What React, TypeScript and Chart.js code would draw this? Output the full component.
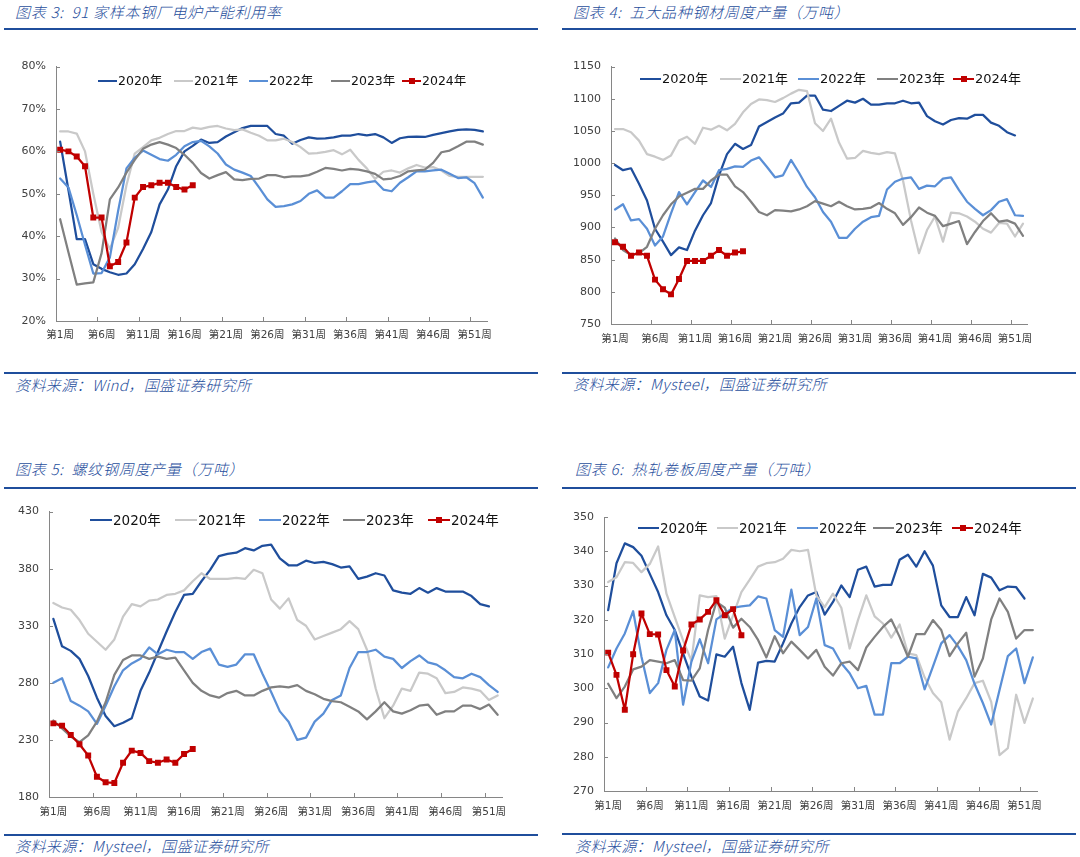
import React, { useEffect, useRef } from 'react';
import { Chart, registerables } from 'chart.js';

Chart.register(...registerables);

// ---------- data ----------
const weeks = Array.from({ length: 52 }, (_, i) => `第${i + 1}周`);
const seriesNames = ['2020年', '2021年', '2022年', '2023年', '2024年'];
const seriesColors = ['#1f4e9c', '#c9c9c9', '#5a8fd6', '#808080', '#c00000'];

// 图表3: 91家样本钢厂电炉产能利用率 (%)
const p1_2020 = [62.3, 50.9, 39.3, 39.3, 33.4, 32.3, 31.5, 30.9, 31.2, 33.4, 37.0, 41.0, 47.5, 51.0, 56.5, 60.0, 61.3, 62.8, 62.0, 62.2, 63.5, 64.5, 65.5, 66.0, 66.0, 66.0, 64.1, 63.7, 61.8, 62.7, 63.3, 63.0, 63.1, 63.3, 63.7, 63.7, 64.1, 63.8, 64.1, 63.3, 62.0, 63.1, 63.4, 63.5, 63.4, 63.9, 64.3, 64.7, 65.1, 65.2, 65.1, 64.7];
const p1_2021 = [64.7, 64.7, 64.2, 60.0, 50.0, 41.0, 37.0, 42.0, 52.0, 59.5, 61.0, 62.6, 63.2, 64.1, 64.8, 64.8, 65.6, 65.3, 65.8, 66.0, 65.4, 65.0, 65.2, 64.4, 63.7, 62.6, 62.6, 63.0, 62.2, 61.0, 59.5, 59.6, 59.9, 60.3, 59.3, 60.4, 58.0, 56.0, 53.5, 55.2, 55.5, 55.0, 56.0, 56.8, 56.2, 56.3, 55.5, 54.2, 54.0, 54.0, 54.0, 54.0];
const p1_2022 = [53.6, 51.5, 45.0, 38.0, 31.2, 31.3, 35.0, 46.0, 56.0, 58.5, 60.2, 59.2, 58.2, 57.8, 59.2, 61.2, 62.2, 62.5, 61.2, 59.5, 56.9, 55.7, 55.0, 54.2, 51.5, 48.7, 46.9, 47.1, 47.5, 48.3, 50.0, 50.8, 49.1, 49.1, 50.6, 52.3, 52.3, 52.7, 53.0, 51.0, 50.6, 52.6, 53.9, 55.3, 55.3, 55.5, 55.7, 54.7, 53.7, 53.9, 52.5, 49.1];
const p1_2023 = [44.0, 36.2, 28.6, 28.9, 29.1, 36.0, 48.7, 51.5, 55.0, 58.0, 60.6, 61.6, 62.2, 61.6, 60.8, 59.2, 57.3, 54.9, 53.6, 54.4, 55.1, 53.4, 53.2, 53.5, 53.6, 54.4, 54.4, 53.9, 54.1, 54.1, 54.4, 55.2, 56.1, 55.9, 55.5, 55.9, 55.7, 55.3, 54.7, 53.4, 53.6, 54.2, 55.3, 55.5, 55.7, 57.3, 59.8, 60.2, 61.2, 62.3, 62.3, 61.6];
const p1_2024 = [60.4, 60.0, 58.8, 56.5, 44.4, 44.4, 32.9, 33.9, 38.5, 49.1, 51.6, 52.0, 52.6, 52.6, 51.6, 51.0, 52.0];

// 图表4: 五大品种钢材周度产量 (万吨)
const p2_2020 = [997, 989, 992, 968, 942, 898, 878, 857, 869, 865, 895, 919, 938, 981, 1014, 1030, 1022, 1028, 1057, 1064, 1071, 1077, 1093, 1094, 1105, 1105, 1083, 1081, 1089, 1097, 1094, 1100, 1091, 1091, 1093, 1093, 1097, 1093, 1094, 1073, 1065, 1060, 1067, 1070, 1069, 1075, 1075, 1063, 1058, 1048, 1043];
const p2_2021 = [1053, 1053, 1048, 1035, 1014, 1010, 1005, 1012, 1035, 1041, 1030, 1055, 1052, 1058, 1051, 1061, 1079, 1092, 1099, 1098, 1095, 1101, 1108, 1114, 1112, 1062, 1050, 1069, 1032, 1007, 1008, 1019, 1016, 1014, 1017, 1015, 973, 911, 860, 896, 917, 878, 923, 922, 917, 909, 898, 892, 907, 906, 886, 906];
const p2_2022 = [928, 936, 911, 913, 898, 872, 886, 922, 955, 936, 955, 973, 963, 989, 991, 995, 994, 1004, 1009, 994, 978, 981, 1005, 985, 963, 947, 924, 909, 884, 884, 898, 909, 916, 918, 959, 971, 976, 978, 960, 965, 964, 976, 978, 958, 940, 929, 919, 927, 940, 944, 919, 918];
const p2_2023 = [883, 865, 857, 860, 870, 898, 919, 936, 948, 954, 960, 960, 973, 982, 982, 964, 955, 940, 924, 919, 927, 926, 925, 928, 933, 941, 937, 933, 940, 933, 928, 929, 931, 938, 929, 922, 904, 916, 931, 923, 918, 902, 906, 910, 874, 893, 910, 922, 909, 911, 906, 887];
const p2_2024 = [877, 870, 856, 861, 856, 819, 804, 796, 820, 848, 848, 848, 856, 865, 856, 861, 863];

// 图表5: 螺纹钢周度产量 (万吨)
const p3_2020 = [336, 312, 308, 301, 286, 267, 251, 242, 245, 249, 273, 289, 307, 325, 342, 357, 358, 369, 379, 391, 393, 394, 398, 396, 400, 401, 389, 383, 383, 387, 385, 386, 384, 381, 382, 371, 373, 376, 374, 361, 359, 358, 363, 359, 363, 360, 360, 360, 356, 349, 347];
const p3_2021 = [350, 346, 344, 335, 323, 316, 309, 318, 338, 349, 347, 352, 353, 357, 358, 361, 369, 376, 371, 371, 371, 372, 371, 379, 376, 353, 345, 354, 335, 330, 318, 321, 324, 327, 334, 327, 309, 275, 249, 260, 275, 273, 289, 288, 284, 271, 272, 276, 275, 273, 265, 269];
const p3_2022 = [280, 284, 264, 260, 255, 244, 260, 277, 291, 297, 301, 311, 305, 309, 307, 307, 301, 307, 310, 296, 294, 296, 305, 305, 288, 272, 255, 246, 230, 232, 246, 253, 265, 269, 293, 307, 307, 309, 303, 301, 293, 299, 304, 298, 296, 291, 285, 284, 288, 285, 278, 272];
const p3_2023 = [247, 240, 233, 228, 234, 246, 263, 287, 300, 304, 304, 301, 303, 301, 302, 291, 280, 273, 269, 267, 271, 273, 269, 269, 273, 276, 277, 276, 278, 273, 270, 266, 264, 263, 259, 255, 248, 255, 263, 255, 253, 256, 260, 261, 252, 255, 255, 260, 260, 257, 261, 252];
const p3_2024 = [244.5, 242.5, 234.3, 226.2, 216.3, 197.7, 192.9, 192.3, 210.0, 220.6, 218.6, 211.4, 210.0, 212.9, 210.0, 217.7, 222.0];

// 图表6: 热轧卷板周度产量 (万吨)
const p4_2020 = [322.8, 336.5, 342.3, 341.2, 338.7, 333.4, 328.1, 321.3, 317.0, 310.2, 303.4, 297.6, 296.4, 309.9, 309.2, 312.1, 301.5, 293.7, 307.5, 308.0, 307.8, 313.1, 318.9, 323.7, 327.1, 328.1, 321.5, 325.2, 330.0, 326.6, 334.6, 335.5, 329.7, 330.2, 330.2, 337.5, 339.0, 335.5, 340.0, 335.8, 324.2, 320.8, 320.8, 326.6, 321.3, 333.4, 332.3, 328.6, 329.7, 329.5, 326.2];
const p4_2021 = [331.0, 332.4, 336.8, 336.6, 333.9, 336.3, 341.4, 327.6, 320.8, 314.0, 308.0, 327.1, 326.6, 326.9, 314.5, 321.3, 328.1, 331.7, 335.5, 336.5, 336.8, 337.8, 340.4, 340.0, 340.4, 327.1, 323.7, 327.6, 323.5, 311.6, 319.9, 327.1, 321.0, 318.9, 314.8, 318.6, 310.2, 309.7, 303.2, 298.6, 295.9, 285.0, 293.2, 297.1, 301.5, 302.2, 296.0, 280.5, 282.5, 298.1, 289.9, 297.0];
const p4_2022 = [306.1, 311.6, 316.0, 322.5, 309.2, 298.6, 301.5, 311.2, 317.0, 295.2, 307.8, 314.3, 307.3, 320.1, 321.8, 323.5, 323.9, 324.2, 326.8, 326.2, 317.0, 315.0, 328.8, 315.5, 317.9, 326.2, 312.6, 311.6, 307.3, 304.4, 300.0, 300.7, 292.3, 292.3, 307.3, 307.3, 309.2, 308.7, 299.7, 306.3, 313.1, 315.5, 312.3, 308.2, 301.3, 295.7, 289.4, 299.5, 309.4, 311.6, 301.5, 309.0];
const p4_2023 = [301.3, 297.1, 300.5, 305.5, 306.3, 308.2, 307.8, 307.3, 308.2, 302.4, 302.2, 305.8, 317.0, 325.2, 323.5, 317.7, 320.3, 317.9, 314.1, 309.0, 315.2, 310.2, 313.6, 311.2, 308.7, 311.2, 306.3, 303.7, 307.3, 307.8, 305.3, 311.9, 315.0, 317.9, 320.1, 315.0, 309.2, 315.8, 315.8, 319.9, 317.0, 309.4, 313.1, 316.2, 303.4, 308.7, 320.1, 326.2, 322.3, 314.5, 317.0, 317.0];
const p4_2024 = [310.4, 303.9, 293.7, 309.9, 321.8, 315.8, 315.7, 305.3, 300.5, 311.0, 318.6, 320.1, 322.3, 325.7, 321.3, 323.1, 315.5];

// ---------- styling / layout ----------
const BLUE = '#1f4e9c';
const TICK_FONT = "'DejaVu Sans', 'Noto Sans CJK SC', sans-serif";
const CJK_FONT = "'Noto Sans CJK SC', sans-serif";

type Rect = { left: number; top: number; width: number; height: number };
type Plot = { left: number; top: number; right: number; bottom: number };

interface PanelCfg {
  id: string;
  canvas: Rect;
  plot: Plot;
  yMin: number;
  yMax: number;
  yStep: number;
  yFmt: (v: number) => string;
  xPad: number;
  series: number[][];
  legendY: number;
  legendSize: number;
  legendLineX: number[];
  legendLineLen: number;
  title: string;
  titleX: number;
  titleY: number;
  source: string;
  sourceY: number;
  ruleLeft: number;
  ruleRight: number;
  titleRuleY: number;
  sourceRuleY: number;
}

const panels: PanelCfg[] = [
  {
    id: 'p1',
    canvas: { left: 0, top: 50, width: 540, height: 300 },
    plot: { left: 56, top: 65, right: 487, bottom: 321 },
    yMin: 20, yMax: 80, yStep: 10, yFmt: (v) => `${v}%`, xPad: 8,
    series: [p1_2020, p1_2021, p1_2022, p1_2023, p1_2024],
    legendY: 81, legendSize: 12.5, legendLineX: [98, 174, 249, 331, 402], legendLineLen: 19,
    title: '图表 3:  91 家样本钢厂电炉产能利用率', titleX: 15, titleY: 12,
    source: '资料来源：Wind，国盛证券研究所', sourceY: 385,
    ruleLeft: 4, ruleRight: 538, titleRuleY: 29, sourceRuleY: 373,
  },
  {
    id: 'p2',
    canvas: { left: 540, top: 50, width: 540, height: 300 },
    plot: { left: 611, top: 65, right: 1027, bottom: 324 },
    yMin: 750, yMax: 1150, yStep: 50, yFmt: (v) => `${v}`, xPad: 9,
    series: [p2_2020, p2_2021, p2_2022, p2_2023, p2_2024],
    legendY: 79, legendSize: 13, legendLineX: [640, 720, 798, 877, 953], legendLineLen: 21,
    title: '图表 4:  五大品种钢材周度产量（万吨）', titleX: 573, titleY: 12,
    source: '资料来源：Mysteel，国盛证券研究所', sourceY: 384,
    ruleLeft: 562, ruleRight: 1076, titleRuleY: 29, sourceRuleY: 373,
  },
  {
    id: 'p3',
    canvas: { left: 0, top: 495, width: 540, height: 330 },
    plot: { left: 49, top: 508, right: 502, bottom: 797 },
    yMin: 180, yMax: 430, yStep: 50, yFmt: (v) => `${v}`, xPad: 9,
    series: [p3_2020, p3_2021, p3_2022, p3_2023, p3_2024],
    legendY: 520, legendSize: 13.5, legendLineX: [90, 175, 259, 343, 428], legendLineLen: 22,
    title: '图表 5:  螺纹钢周度产量（万吨）', titleX: 15, titleY: 469,
    source: '资料来源：Mysteel，国盛证券研究所', sourceY: 846,
    ruleLeft: 4, ruleRight: 538, titleRuleY: 488, sourceRuleY: 835,
  },
  {
    id: 'p4',
    canvas: { left: 540, top: 500, width: 540, height: 325 },
    plot: { left: 604, top: 517, right: 1037, bottom: 791 },
    yMin: 270, yMax: 350, yStep: 10, yFmt: (v) => `${v}`, xPad: 9,
    series: [p4_2020, p4_2021, p4_2022, p4_2023, p4_2024],
    legendY: 528, legendSize: 13.5, legendLineX: [638, 717, 797, 873, 952], legendLineLen: 21,
    title: '图表 6:  热轧卷板周度产量（万吨）', titleX: 575, titleY: 469,
    source: '资料来源：Mysteel，国盛证券研究所', sourceY: 846,
    ruleLeft: 562, ruleRight: 1076, titleRuleY: 488, sourceRuleY: 834,
  },
];

const innerTicks = {
  id: 'innerTicks',
  afterDraw(chart: any) {
    const { ctx, chartArea } = chart;
    const x = chart.scales.x;
    const y = chart.scales.y;
    ctx.save();
    ctx.strokeStyle = '#868686';
    ctx.lineWidth = 1;
    y.ticks.forEach((_t: any, i: number) => {
      const py = Math.round(y.getPixelForTick(i)) + 0.5;
      ctx.beginPath();
      ctx.moveTo(chartArea.left, py);
      ctx.lineTo(chartArea.left + 4, py);
      ctx.stroke();
    });
    const half = (x.getPixelForValue(1) - x.getPixelForValue(0)) / 2;
    for (let i = 0; i < weeks.length; i += 5) {
      const px = Math.round(x.getPixelForValue(i) - half) + 0.5;
      ctx.beginPath();
      ctx.moveTo(px, chartArea.bottom);
      ctx.lineTo(px, chartArea.bottom - 4);
      ctx.stroke();
    }
    ctx.restore();
  },
};

function PanelChart({ cfg }: { cfg: PanelCfg }) {
  const ref = useRef<HTMLCanvasElement | null>(null);
  useEffect(() => {
    if (!ref.current) return;
    const { canvas, plot } = cfg;
    const datasets = cfg.series.map((data, i) => {
      const isLast = i === cfg.series.length - 1;
      return {
        label: seriesNames[i],
        data,
        borderColor: seriesColors[i],
        backgroundColor: seriesColors[i],
        borderWidth: 2.25,
        pointRadius: isLast ? 4.2 : 0,
        pointStyle: 'rect' as const,
        pointBackgroundColor: seriesColors[i],
        pointBorderColor: seriesColors[i],
        pointBorderWidth: 0,
        tension: 0,
        borderJoinStyle: 'round' as const,
        borderCapStyle: 'round' as const,
        order: seriesNames.length - i,
      };
    });
    const chart = new Chart(ref.current, {
      type: 'line',
      data: { labels: weeks, datasets },
      plugins: [innerTicks],
      options: {
        responsive: false,
        animation: false,
        devicePixelRatio: 1,
        layout: {
          padding: {
            top: plot.top - canvas.top,
            right: canvas.left + canvas.width - plot.right,
            left: 0,
            bottom: 0,
          },
        },
        plugins: { legend: { display: false }, tooltip: { enabled: false } },
        scales: {
          x: {
            type: 'category',
            offset: true,
            grid: { display: false, drawTicks: false },
            border: { display: true, color: '#868686', width: 1 },
            ticks: {
              autoSkip: false,
              maxRotation: 0,
              minRotation: 0,
              padding: cfg.xPad,
              color: '#404040',
              font: { family: TICK_FONT, size: 10.5 },
              callback: (_v: any, i: number) => (i % 5 === 0 ? weeks[i] : ''),
            },
            afterFit: (s: any) => {
              s.height = canvas.top + canvas.height - plot.bottom;
            },
          },
          y: {
            min: cfg.yMin,
            max: cfg.yMax,
            grid: { display: false, drawTicks: false },
            border: { display: true, color: '#868686', width: 1 },
            ticks: {
              stepSize: cfg.yStep,
              padding: 10,
              color: '#404040',
              font: { family: TICK_FONT, size: 11 },
              callback: (v: any) => cfg.yFmt(Number(v)),
            },
            afterFit: (s: any) => {
              s.width = plot.left - canvas.left;
            },
          },
        },
      } as any,
    });
    return () => chart.destroy();
  }, [cfg]);
  return (
    <canvas
      ref={ref}
      width={cfg.canvas.width}
      height={cfg.canvas.height}
      style={{ position: 'absolute', left: cfg.canvas.left, top: cfg.canvas.top, width: cfg.canvas.width, height: cfg.canvas.height }}
    />
  );
}

function Legend({ cfg }: { cfg: PanelCfg }) {
  return (
    <>
      {seriesNames.map((name, i) => {
        const isLast = i === seriesNames.length - 1;
        return (
          <div
            key={name}
            style={{
              position: 'absolute',
              left: cfg.legendLineX[i],
              top: cfg.legendY - 10,
              height: 20,
              display: 'flex',
              alignItems: 'center',
              whiteSpace: 'nowrap',
            }}
          >
            <span style={{ position: 'relative', display: 'inline-block', width: cfg.legendLineLen, height: 2.5, background: seriesColors[i] }}>
              {isLast && (
                <span
                  style={{
                    position: 'absolute',
                    left: cfg.legendLineLen / 2 - 3,
                    top: -1.75,
                    width: 6,
                    height: 6,
                    background: seriesColors[i],
                  }}
                />
              )}
            </span>
            <span style={{ marginLeft: 1, fontFamily: TICK_FONT, fontSize: cfg.legendSize, color: '#111111', lineHeight: '20px' }}>{name}</span>
          </div>
        );
      })}
    </>
  );
}

function Frame({ cfg }: { cfg: PanelCfg }) {
  const textStyle: React.CSSProperties = {
    position: 'absolute',
    fontFamily: CJK_FONT,
    fontStyle: 'italic',
    fontWeight: 300,
    color: BLUE,
    whiteSpace: 'pre',
    lineHeight: '20px',
  };
  return (
    <>
      <div style={{ ...textStyle, left: cfg.titleX, top: cfg.titleY - 10, fontSize: 15, letterSpacing: 0.7 }}>{cfg.title}</div>
      <div style={{ position: 'absolute', left: cfg.ruleLeft, width: cfg.ruleRight - cfg.ruleLeft, top: cfg.titleRuleY - 1, height: 2.2, background: BLUE }} />
      <div style={{ position: 'absolute', left: cfg.ruleLeft, width: cfg.ruleRight - cfg.ruleLeft, top: cfg.sourceRuleY - 1, height: 2, background: BLUE }} />
      <div style={{ ...textStyle, left: cfg.titleX, top: cfg.sourceY - 10, fontSize: 15, letterSpacing: 0.4 }}>{cfg.source}</div>
    </>
  );
}

export default function App() {
  return (
    <div style={{ position: 'absolute', left: 0, top: 0, width: 1080, height: 857, background: '#ffffff', overflow: 'hidden' }}>
      {panels.map((p) => (
        <React.Fragment key={p.id}>
          <Frame cfg={p} />
          <PanelChart cfg={p} />
          <Legend cfg={p} />
        </React.Fragment>
      ))}
    </div>
  );
}
